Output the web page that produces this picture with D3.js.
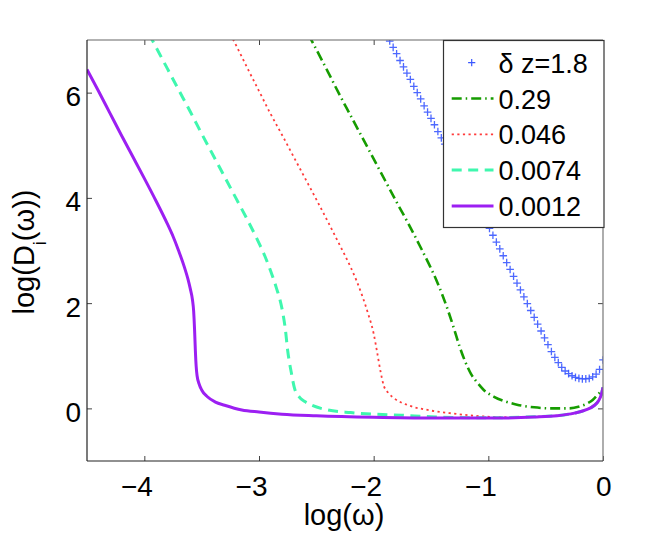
<!DOCTYPE html>
<html>
<head>
<meta charset="utf-8">
<script src="https://cdn.jsdelivr.net/npm/d3@7"></script>
<style>
  html, body { margin: 0; padding: 0; background: #fff; }
  svg { display: block; font-family: "Liberation Sans", Arial, Helvetica, sans-serif; }
</style>
</head>
<body>
<svg id="chart" width="667" height="538"></svg>
<script>
// ---- data (log(omega), log(D_i(omega))) ----
const seriesLabels = ["δ z=1.8", "0.29", "0.046", "0.0074", "0.0012"];

const blue18 = [
  [-1.89,7.11],[-1.86,6.98],[-1.83,6.86],[-1.80,6.74],[-1.77,6.61],[-1.74,6.49],[-1.71,6.37],
  [-1.68,6.25],[-1.65,6.12],[-1.62,6.00],[-1.59,5.88],[-1.56,5.75],[-1.53,5.63],[-1.50,5.51],
  [-1.47,5.39],[-1.44,5.26],[-1.41,5.14],[-1.38,5.02],[-1.35,4.89],[-1.32,4.77],[-1.29,4.65],
  [-1.26,4.52],[-1.23,4.40],[-1.20,4.28],[-1.17,4.16],[-1.14,4.03],[-1.11,3.91],[-1.08,3.79],
  [-1.05,3.66],[-1.02,3.54],[-0.99,3.42],[-0.96,3.29],[-0.93,3.16],[-0.90,3.03],[-0.87,2.90],
  [-0.84,2.77],[-0.81,2.64],[-0.78,2.51],[-0.75,2.38],[-0.72,2.25],[-0.69,2.12],[-0.66,1.99],
  [-0.63,1.86],[-0.60,1.73],[-0.57,1.60],[-0.54,1.47],[-0.51,1.34],[-0.48,1.21],[-0.45,1.08],
  [-0.42,0.97],[-0.39,0.87],[-0.36,0.78],[-0.33,0.71],[-0.30,0.66],[-0.27,0.62],[-0.24,0.59],
  [-0.21,0.57],[-0.18,0.56],[-0.15,0.56],[-0.12,0.57],[-0.09,0.60],[-0.06,0.65],[-0.03,0.74],
  [0.00,0.92]
];

const green029 = [
  [-2.57,7.11],[-2.5,6.82],[-2.4,6.4],[-2.3,5.97],[-2.2,5.56],[-2.1,5.15],[-2.0,4.74],[-1.9,4.33],
  [-1.8,3.92],[-1.7,3.52],[-1.6,3.10],[-1.5,2.66],[-1.45,2.42],[-1.4,2.15],[-1.35,1.85],[-1.3,1.52],
  [-1.25,1.17],[-1.2,0.88],[-1.15,0.65],[-1.1,0.5],[-1.04,0.35],[-0.95,0.22],[-0.85,0.13],[-0.75,0.07],
  [-0.6,0.02],[-0.45,0.0],[-0.3,0.0],[-0.2,0.04],[-0.14,0.09],[-0.09,0.16],[-0.05,0.25],[-0.02,0.32],[0,0.38]
];

const red0046 = [
  [-3.25,7.11],[-3.2,6.9],[-3.1,6.46],[-3.0,6.03],[-2.9,5.60],[-2.8,5.2],[-2.7,4.79],[-2.6,4.38],
  [-2.5,3.97],[-2.4,3.55],[-2.3,3.12],[-2.2,2.68],[-2.15,2.43],[-2.1,2.14],[-2.05,1.81],[-2.0,1.42],
  [-1.97,1.07],[-1.94,0.7],[-1.91,0.42],[-1.87,0.29],[-1.82,0.19],[-1.7,0.06],[-1.53,-0.03],[-1.3,-0.1],
  [-1.07,-0.15],[-0.8,-0.17],[-0.6,-0.16],[-0.4,-0.14],[-0.25,-0.09],[-0.15,-0.03],[-0.08,0.05],
  [-0.04,0.14],[-0.015,0.26],[0,0.40]
];

const cyan00074 = [
  [-3.96,7.12],[-3.9,6.87],[-3.8,6.46],[-3.7,6.05],[-3.6,5.64],[-3.5,5.22],[-3.4,4.81],[-3.3,4.40],
  [-3.2,3.99],[-3.1,3.58],[-3.0,3.14],[-2.95,2.90],[-2.9,2.62],[-2.85,2.30],[-2.8,1.90],[-2.77,1.5],
  [-2.75,1.1],[-2.72,0.7],[-2.69,0.38],[-2.65,0.22],[-2.6,0.13],[-2.54,0.06],[-2.4,-0.03],[-2.2,-0.08],
  [-2.0,-0.11],[-1.76,-0.13],[-1.5,-0.16],[-1.0,-0.18],[-0.6,-0.16],[-0.4,-0.14],[-0.25,-0.09],
  [-0.15,-0.03],[-0.08,0.05],[-0.04,0.14],[-0.015,0.26],[0,0.40]
];

const purple00012 = [
  [-4.5,6.44],[-4.4,6.03],[-4.3,5.61],[-4.2,5.19],[-4.1,4.78],[-4.0,4.37],[-3.9,3.95],[-3.8,3.51],
  [-3.75,3.27],[-3.7,2.99],[-3.65,2.68],[-3.62,2.46],[-3.6,2.28],[-3.58,2.06],[-3.57,1.85],[-3.562,1.5],
  [-3.555,1.1],[-3.548,0.8],[-3.54,0.62],[-3.52,0.45],[-3.5,0.35],[-3.45,0.22],[-3.38,0.12],[-3.3,0.06],
  [-3.15,-0.03],[-3.0,-0.07],[-2.8,-0.11],[-2.5,-0.14],[-2.0,-0.17],[-1.5,-0.185],[-1.0,-0.185],
  [-0.6,-0.165],[-0.4,-0.14],[-0.25,-0.09],[-0.15,-0.03],[-0.08,0.05],[-0.04,0.14],[-0.015,0.26],[0,0.40]
];

const xTicks = [-4, -3, -2, -1, 0];
const yTicks = [0, 2, 4, 6];
const xDomain = [-4.5, 0];
const yDomain = [-1, 7];

// ---- layout ----
const svg = d3.select("#chart");
const L = 87, R = 603, T = 40, B = 461;
const x = d3.scaleLinear().domain(xDomain).range([L, R]);
const y = d3.scaleLinear().domain(yDomain).range([B, T]);

svg.append("rect").attr("width", 667).attr("height", 538).attr("fill", "#fff");

svg.append("defs").append("clipPath").attr("id", "clip")
  .append("rect").attr("x", L).attr("y", T).attr("width", R - L).attr("height", B - T);

const fmt = d => d === 0 ? "0" : "\u2212" + Math.abs(d);

// axes (ticks inward on all four sides)
const gx = svg.append("g").attr("transform", `translate(0,${B})`)
  .call(d3.axisBottom(x).tickValues(xTicks).tickSize(-5).tickFormat(fmt));
const gxt = svg.append("g").attr("transform", `translate(0,${T})`)
  .call(d3.axisTop(x).tickValues(xTicks).tickSize(-5).tickFormat(""));
const gy = svg.append("g").attr("transform", `translate(${L},0)`)
  .call(d3.axisLeft(y).tickValues(yTicks).tickSize(-5).tickFormat(d => String(d)));
const gyr = svg.append("g").attr("transform", `translate(${R},0)`)
  .call(d3.axisRight(y).tickValues(yTicks).tickSize(-5).tickFormat(""));

[gx, gxt, gy, gyr].forEach(g => {
  g.select(".domain").remove();
  g.selectAll(".tick line").attr("stroke", "#444").attr("stroke-width", 1);
});

gx.selectAll(".tick text")
  .attr("font-size", 28).attr("fill", "#000")
  .attr("text-anchor", "end").attr("x", 8).attr("y", 35).attr("dy", 0);
gy.selectAll(".tick text")
  .attr("font-size", 28).attr("fill", "#000")
  .attr("text-anchor", "end").attr("x", -6).attr("dy", 13);

// series
const line = d3.line().x(d => x(d[0])).y(d => y(d[1])).curve(d3.curveMonotoneX);
const plot = svg.append("g").attr("clip-path", "url(#clip)");

const styles = [
  null,
  { data: green029, color: "#169c00", width: 2.6, dash: "10,4,1.5,4" },
  { data: red0046, color: "#ff3b3b", width: 1.8, dash: "2.2,3.4" },
  { data: cyan00074, color: "#3ff7ae", width: 3, dash: "10,6.5" },
  { data: purple00012, color: "#9c1ff2", width: 3, dash: null }
];

// blue "+" markers
const blueColor = "#3a58ff";
const plus = s => `M${-s},0H${s}M0,${-s}V${s}`;
plot.append("g").selectAll("path").data(blue18).join("path")
  .attr("transform", d => `translate(${x(d[0])},${y(d[1])})`)
  .attr("d", plus(3.8))
  .attr("fill", "none").attr("stroke", blueColor).attr("stroke-width", 1.3).attr("stroke-opacity", 0.9);

styles.slice(1).forEach(s => {
  plot.append("path").datum(s.data)
    .attr("d", line)
    .attr("fill", "none")
    .attr("stroke", s.color)
    .attr("stroke-width", s.width)
    .attr("stroke-dasharray", s.dash)
    .attr("stroke-linejoin", "round");
});

// box
svg.append("line").attr("x1", L).attr("x2", R).attr("y1", T).attr("y2", T).attr("stroke", "#666").attr("stroke-width", 1.2);
svg.append("line").attr("x1", R).attr("x2", R).attr("y1", T).attr("y2", B).attr("stroke", "#777").attr("stroke-width", 1.2);
svg.append("line").attr("x1", L).attr("x2", R).attr("y1", B).attr("y2", B).attr("stroke", "#222").attr("stroke-width", 1.2);
svg.append("line").attr("x1", L).attr("x2", L).attr("y1", T).attr("y2", B).attr("stroke", "#222").attr("stroke-width", 1.2);

// axis labels
svg.append("text").attr("x", 344).attr("y", 525).attr("text-anchor", "middle")
  .attr("font-size", 29).attr("fill", "#000").text("log(ω)");

const yl = svg.append("text").attr("transform", "translate(34,252) rotate(-90)")
  .attr("text-anchor", "middle").attr("font-size", 29).attr("fill", "#000");
yl.append("tspan").text("log(D");
yl.append("tspan").attr("font-size", 18).attr("dy", 12).text("i");
yl.append("tspan").attr("dy", -12).text("(ω))");

// legend
const lg = svg.append("g");
lg.append("rect").attr("x", 443.5).attr("y", 40.5).attr("width", 160.5).attr("height", 187)
  .attr("fill", "#fff").attr("stroke", "#333").attr("stroke-width", 1.2);
const rowY = i => 62.7 + i * 35.8;
seriesLabels.forEach((lab, i) => {
  const yy = rowY(i);
  if (i === 0) {
    lg.append("path").attr("transform", `translate(471.7,${yy})`).attr("d", plus(3.6))
      .attr("fill", "none").attr("stroke", blueColor).attr("stroke-width", 1.2);
  } else {
    const s = styles[i];
    lg.append("line").attr("x1", 451.7).attr("x2", 493.5).attr("y1", yy).attr("y2", yy)
      .attr("stroke", s.color).attr("stroke-width", s.width).attr("stroke-dasharray", s.dash);
  }
  lg.append("text").attr("x", 498.5).attr("y", yy + 10).attr("font-size", 27).attr("fill", "#000").text(lab);
});
</script>
</body>
</html>
